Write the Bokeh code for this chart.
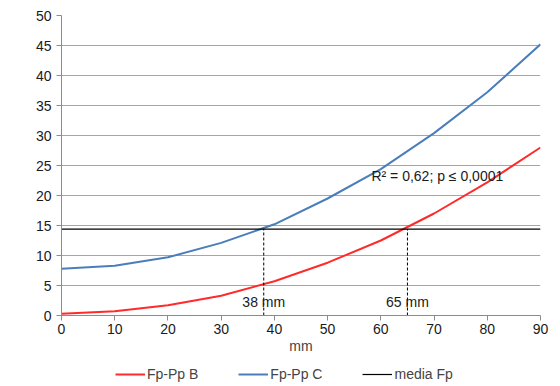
from bokeh.plotting import figure
from bokeh.models import Legend, LegendItem, Label, Range1d, FixedTicker
from bokeh.layouts import column
from bokeh.embed import file_html
from bokeh.resources import INLINE

x_mm = [0, 10, 20, 30, 40, 50, 60, 70, 80, 90]
fp_pp_b = [0.3, 0.7, 1.7, 3.3, 5.7, 8.8, 12.5, 17.0, 22.2, 28.0]
fp_pp_c = [7.8, 8.3, 9.7, 12.1, 15.2, 19.5, 24.4, 30.4, 37.2, 45.2]
media_fp = 14.4
cut_points = [38, 65]
cut_labels = ["38 mm", "65 mm"]
annotation = "R² = 0,62; p ≤ 0,0001"
series_names = ["Fp-Pp B", "Fp-Pp C", "media Fp"]
series_colors = ["#ff2a2a", "#4a7ebb", "black"]

FONT = "Liberation Sans"
FS = "14px"

p = figure(width=560, height=356, output_backend="svg", toolbar_location=None,
           x_range=Range1d(0, 90), y_range=Range1d(0, 50),
           min_border_left=61, min_border_right=20, min_border_top=15, min_border_bottom=40)
p.outline_line_color = None
p.background_fill_color = "white"
p.border_fill_color = "white"

for ax in (p.xaxis, p.yaxis):
    ax.axis_line_color = "#8c8c8c"
    ax.major_tick_line_color = "#8c8c8c"
    ax.minor_tick_line_color = None
    ax.major_tick_in = 0
    ax.major_tick_out = 5
    ax.major_label_text_font = FONT
    ax.major_label_text_font_size = FS
    ax.major_label_text_color = "#1a1a1a"
p.xaxis.ticker = FixedTicker(ticks=x_mm)
p.yaxis.ticker = FixedTicker(ticks=list(range(0, 51, 5)))
p.xaxis.axis_label = "mm"
p.xaxis.axis_label_text_font = FONT
p.xaxis.axis_label_text_font_style = "normal"
p.xaxis.axis_label_text_font_size = FS
p.xaxis.axis_label_standoff = 1
p.xaxis.major_label_standoff = 3
p.yaxis.major_label_standoff = 5

p.xgrid.grid_line_color = None
p.ygrid.grid_line_color = "#a6a6a6"
p.ygrid.grid_line_width = 1.2

p.line(x_mm, fp_pp_b, line_color=series_colors[0], line_width=2)
p.line(x_mm, fp_pp_c, line_color=series_colors[1], line_width=2)
p.line([0, 90], [media_fp, media_fp], line_color=series_colors[2], line_width=1.2)

for cx, lab in zip(cut_points, cut_labels):
    p.line([cx, cx], [0, media_fp], line_color="black", line_dash="3 2", line_width=1)
    p.add_layout(Label(x=cx, y=1.0, text=lab, text_align="center", text_font=FONT,
                       text_font_size=FS, text_color="#1a1a1a"))

p.add_layout(Label(x=83, y=23.3, text=annotation, text_align="right", text_baseline="middle",
                   text_font=FONT, text_font_size=FS, text_color="#1a1a1a"))
p.add_layout(Label(x=-7.5, y=25, text="%", text_align="center", text_baseline="middle",
                   text_font=FONT, text_font_size=FS, text_font_style="bold",
                   text_color="#1a1a1a"))

# legend strip below the chart (its frame is aligned with the chart's frame)
lf = figure(width=560, height=30, output_backend="svg", toolbar_location=None,
            x_range=Range1d(0, 1), y_range=Range1d(0, 1), min_border=0)
lf.axis.visible = False
lf.grid.grid_line_color = None
lf.outline_line_color = None
items = []
for name, col, w in zip(series_names, series_colors, [2, 2, 1.2]):
    r = lf.line([5, 6], [5, 6], line_color=col, line_width=w)
    items.append(LegendItem(label=name, renderers=[r]))
legend = Legend(items=items, orientation="horizontal", location=(54, 4),
                border_line_color=None, background_fill_alpha=0,
                label_text_font=FONT, label_text_font_size=FS,
                glyph_width=30, glyph_height=16, spacing=40, label_standoff=2,
                padding=0, margin=0)
lf.add_layout(legend, "center")

layout = column(p, lf, spacing=0)
open("out.html", "w").write(file_html(layout, INLINE))
